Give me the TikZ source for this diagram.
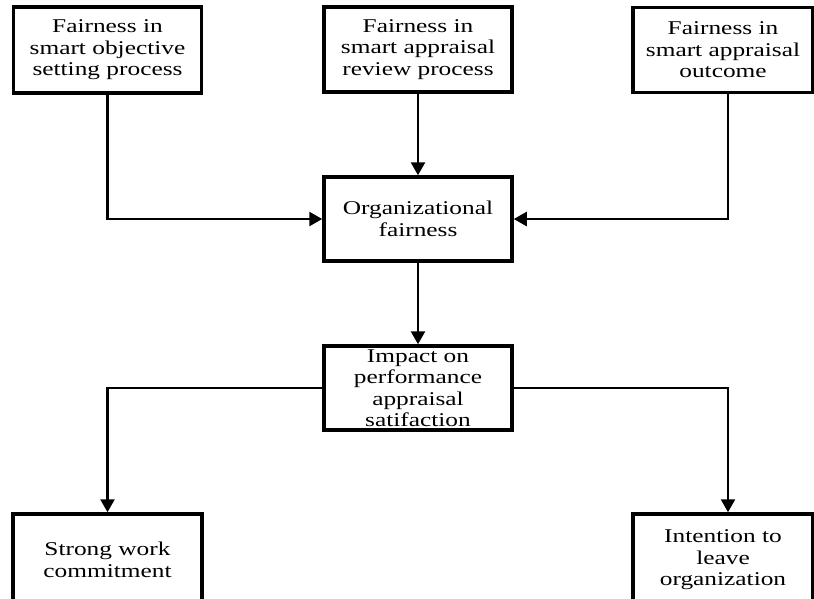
\documentclass[tikz,border=0pt]{standalone}
\usepackage{fontspec}
\setmainfont{Liberation Serif}[FakeStretch=1.3]
\usetikzlibrary{arrows.meta}
\begin{document}
\begin{tikzpicture}[x=1pt,y=-1pt,
  box/.style={draw, line width=3.5pt, align=center, inner sep=0pt,
    font=\fontsize{19.5}{21.5}\selectfont},
  conn/.style={line width=2.5pt, -{Triangle[width=14pt,length=13pt]}}]
\useasboundingbox (0,0) rectangle (814,598);
\clip (0,0) rectangle (814,598);
\node[box, minimum width=188pt, minimum height=86pt] (b1) at (107.5,50) {Fairness in\\smart objective\\setting process};
\node[box, minimum width=188pt, minimum height=85pt] (b2) at (418,49.5) {Fairness in\\smart appraisal\\review process};
\node[box, minimum width=180pt, minimum height=85pt] (b3) at (723,50) {Fairness in\\smart appraisal\\outcome};
\node[box, minimum width=188pt, minimum height=84pt] (org) at (418,219) {Organizational\\fairness};
\node[box, minimum width=188pt, minimum height=84pt] (imp) at (418,388) {Impact on\\performance\\appraisal\\satifaction};
\node[box, minimum width=189pt, minimum height=92pt] (s1) at (107.5,560) {Strong work\\commitment};
\node[box, minimum width=180pt, minimum height=92pt] (s2) at (723,560) {Intention to\\leave\\organization};
\draw[conn] (b2.south) -- (org.north);
\draw[conn] (b1.south) |- (org.west);
\draw[conn] ([xshift=5pt]b3.south) |- (org.east);
\draw[conn] (org.south) -- (imp.north);
\draw[conn] (imp.west) -| (s1.north);
\draw[conn] (imp.east) -| ([xshift=5pt]s2.north);
\end{tikzpicture}
\end{document}
